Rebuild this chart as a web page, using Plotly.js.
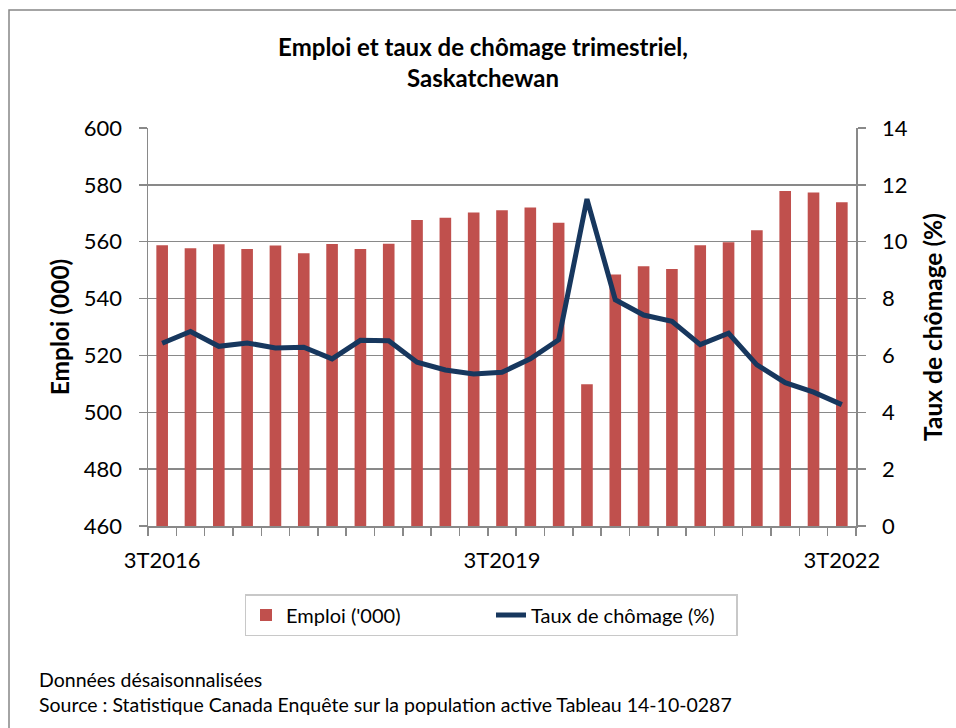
<!DOCTYPE html>
<html>
<head>
<meta charset="utf-8">
<script src="https://cdn.plot.ly/plotly-3.0.1.min.js"></script>
<style>
html, body { margin: 0; padding: 0; background: #ffffff; }
#chart { width: 956px; height: 728px; }
</style>
</head>
<body>
<div id="chart"></div>
<script>
// ---- data ----
const quarters = [
  "3T2016","4T2016","1T2017","2T2017","3T2017","4T2017","1T2018","2T2018","3T2018","4T2018",
  "1T2019","2T2019","3T2019","4T2019","1T2020","2T2020","3T2020","4T2020","1T2021","2T2021",
  "3T2021","4T2021","1T2022","2T2022","3T2022"
];
const emploi = [
  558.8, 557.7, 559.1, 557.4, 558.7, 555.9, 559.2, 557.4, 559.3, 567.6,
  568.4, 570.3, 571.1, 572.0, 566.7, 509.9, 548.5, 551.4, 550.4, 558.8,
  559.8, 564.0, 577.8, 577.3, 573.9
];
const chomage = [
  6.43, 6.84, 6.32, 6.44, 6.26, 6.29, 5.88, 6.53, 6.52, 5.76,
  5.49, 5.35, 5.41, 5.88, 6.55, 11.50, 7.96, 7.42, 7.20, 6.38,
  6.78, 5.67, 5.04, 4.71, 4.27
];
const shownTicks = ["3T2016", "3T2019", "3T2022"];

const titleText = "Emploi et taux de chômage trimestriel,<br>Saskatchewan";
const leftTitle = "Emploi (000)";
const rightTitle = "Taux de chômage (%)";
const seriesNames = ["Emploi ('000)", "Taux de chômage (%)"];
const notes = ["Données désaisonnalisées",
               "Source : Statistique Canada Enquête sur la population active Tableau 14-10-0287"];

// ---- layout helpers ----
const W = 956, H = 728;
const mL = 148, mR = 100, mT = 128, mB = 202;
const pw = W - mL - mR, ph = H - mT - mB;
const px = x => (x - mL) / pw;
const py = y => (H - mB - y) / ph;

const FONT = "Lato, 'Liberation Sans', sans-serif";
const GRID = "#898989";

const traces = [
  {
    type: "bar",
    name: seriesNames[0],
    x: quarters,
    y: emploi,
    marker: { color: "#C0504D", line: { width: 0 } },
    yaxis: "y",
    hoverinfo: "x+y"
  },
  {
    type: "scatter",
    mode: "lines",
    name: seriesNames[1],
    x: quarters,
    y: chomage,
    line: { color: "#17375E", width: 5 },
    yaxis: "y2",
    hoverinfo: "x+y"
  }
];

const layout = {
  width: W, height: H,
  margin: { l: mL, r: mR, t: mT, b: mB, pad: 0 },
  paper_bgcolor: "#ffffff",
  plot_bgcolor: "#ffffff",
  font: { family: FONT, color: "#000000", size: 22 },
  bargap: 0.59,
  showlegend: true,
  title: {
    text: titleText,
    font: { family: FONT, size: 24, color: "#000000", weight: "bold" },
    x: px(483), xref: "paper", xanchor: "center",
    y: 1 - 56 / H, yref: "container", yanchor: "middle"
  },
  xaxis: {
    type: "category",
    categoryorder: "array",
    categoryarray: quarters,
    range: [-0.5, quarters.length - 0.5],
    tickmode: "array",
    tickvals: quarters,
    ticktext: quarters.map(q => shownTicks.includes(q) ? q : ""),
    tickangle: 0,
    tickson: "boundaries",
    ticks: "outside",
    ticklen: 8,
    tickwidth: 1.5,
    tickcolor: GRID,
    showline: true,
    linecolor: GRID,
    linewidth: 1.5,
    showgrid: false,
    tickfont: { family: FONT, size: 22, color: "#000000" },
    ticklabelstandoff: 14,
    automargin: false,
    fixedrange: true
  },
  yaxis: {
    range: [460, 600],
    dtick: 20,
    tick0: 460,
    ticks: "outside",
    ticklen: 8,
    tickwidth: 1.5,
    tickcolor: GRID,
    showline: true,
    linecolor: GRID,
    linewidth: 1.5,
    showgrid: true,
    gridcolor: GRID,
    gridwidth: 1.5,
    zeroline: false,
    tickfont: { family: FONT, size: 22, color: "#000000" },
    ticklabelstandoff: 12,
    title: {
      text: leftTitle,
      font: { family: FONT, size: 24.5, color: "#000000", weight: "bold" },
      standoff: 7
    },
    automargin: false,
    fixedrange: true
  },
  yaxis2: {
    overlaying: "y",
    side: "right",
    range: [0, 14],
    dtick: 2,
    tick0: 0,
    ticks: "outside",
    ticklen: 8,
    tickwidth: 1.5,
    tickcolor: GRID,
    showline: true,
    linecolor: GRID,
    linewidth: 1.5,
    showgrid: false,
    zeroline: false,
    tickfont: { family: FONT, size: 22, color: "#000000" },
    ticklabelstandoff: 12,
    title: {
      text: rightTitle,
      font: { family: FONT, size: 24.5, color: "#000000", weight: "bold" },
      standoff: 18
    },
    automargin: false,
    fixedrange: true
  },
  legend: {
    orientation: "h",
    x: px(491), xanchor: "center",
    y: py(594), yanchor: "top",
    bordercolor: "#C8C8C8",
    borderwidth: 1.5,
    bgcolor: "#ffffff",
    font: { family: FONT, size: 20, color: "#000000" },
    itemsizing: "constant",
    traceorder: "normal",
    entrywidth: 200,
    entrywidthmode: "pixels"
  },
  shapes: [
    {
      type: "rect", xref: "paper", yref: "paper",
      x0: px(9), x1: px(990), y0: py(760), y1: py(10),
      line: { color: "#868686", width: 1.5 },
      fillcolor: "rgba(0,0,0,0)",
      layer: "above"
    }
  ],
  annotations: [
    {
      text: notes[0], xref: "paper", yref: "paper",
      x: px(37), y: py(679), xanchor: "left", yanchor: "middle",
      showarrow: false, font: { family: FONT, size: 19.5, color: "#000000" }
    },
    {
      text: notes[1], xref: "paper", yref: "paper",
      x: px(37), y: py(704), xanchor: "left", yanchor: "middle",
      showarrow: false, font: { family: FONT, size: 19.5, color: "#000000" }
    }
  ]
};

Plotly.newPlot("chart", traces, layout, { displayModeBar: false, staticPlot: true });
</script>
</body>
</html>
